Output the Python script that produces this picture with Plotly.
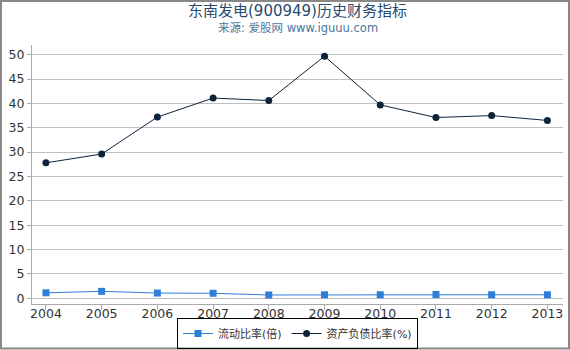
import plotly.graph_objects as go

years = [2004, 2005, 2006, 2007, 2008, 2009, 2010, 2011, 2012, 2013]
current_ratio = [1.1, 1.4, 1.05, 1.0, 0.65, 0.7, 0.7, 0.75, 0.7, 0.7]
debt_ratio = [27.8, 29.6, 37.2, 41.1, 40.6, 49.7, 39.7, 37.1, 37.5, 36.5]
y_ticks = [0, 5, 10, 15, 20, 25, 30, 35, 40, 45, 50]

font_family = "DejaVu Sans, Noto Sans CJK SC"

W, H = 570, 350
ML, MR, MT, MB = 32, 7, 45, 46
plot_w = W - ML - MR
plot_h = H - MT - MB

fig = go.Figure()
fig.add_trace(go.Scatter(
    x=years, y=current_ratio, mode="lines+markers", name="流动比率(倍)",
    line=dict(color="#2f7ed8", width=1),
    marker=dict(symbol="square", size=7, color="#2f7ed8"),
))
fig.add_trace(go.Scatter(
    x=years, y=debt_ratio, mode="lines+markers", name="资产负债比率(%)",
    line=dict(color="#0d233a", width=1),
    marker=dict(symbol="circle", size=7, color="#0d233a"),
))

fig.update_layout(
    width=W, height=H,
    margin=dict(l=ML, r=MR, t=MT, b=MB, autoexpand=False),
    paper_bgcolor="white", plot_bgcolor="white",
    font=dict(family=font_family, size=12, color="#333333"),
    showlegend=True,
    legend=dict(
        orientation="h", x=0.5, xanchor="center",
        yref="container", y=1 / H, yanchor="bottom",
        bordercolor="#000000", borderwidth=1, bgcolor="rgba(255,255,255,0)",
        font=dict(size=11, color="#333333"),
        tracegroupgap=0, itemwidth=30,
    ),
    xaxis=dict(
        range=[2003.75, 2013.28], tickmode="array", tickvals=years,
        ticktext=[str(y) for y in years], automargin=False,
        showgrid=False, showline=True, linecolor="#aaaaaa", linewidth=1,
        ticks="outside", ticklen=5, tickcolor="#aaaaaa",
        ticklabelstandoff=-7,
        tickfont=dict(size=12.5, color="#333333"), zeroline=False,
    ),
    yaxis=dict(
        range=[-1.2, 52], tickmode="array", tickvals=y_ticks, automargin=False,
        showgrid=True, gridcolor="#c0c0c0", gridwidth=1,
        showline=True, linecolor="#aaaaaa", linewidth=1,
        ticks="outside", ticklen=4, tickcolor="#aaaaaa",
        tickfont=dict(size=12.5, color="#333333"), zeroline=False,
    ),
    annotations=[
        dict(text="东南发电(900949)历史财务指标", x=0.5, xref="paper",
             y=1 + (MT - 11) / plot_h, yref="paper", yanchor="middle",
             showarrow=False, font=dict(size=15, color="#274b6d")),
        dict(text="来源: 爱股网 www.iguuu.com", x=0.5, xref="paper",
             y=1 + (MT - 28) / plot_h, yref="paper", yanchor="middle",
             showarrow=False, font=dict(size=11.5, color="#4d759e")),
    ],
)

# outer frame
fig.add_shape(type="rect", xref="paper", yref="paper",
              x0=(-ML + 1) / plot_w, x1=1 + (MR - 1) / plot_w,
              y0=-(MB - 1.5) / plot_h, y1=1 + (MT - 1) / plot_h,
              line=dict(color="#888888", width=2), layer="below")

fig.write_html("out.html")
